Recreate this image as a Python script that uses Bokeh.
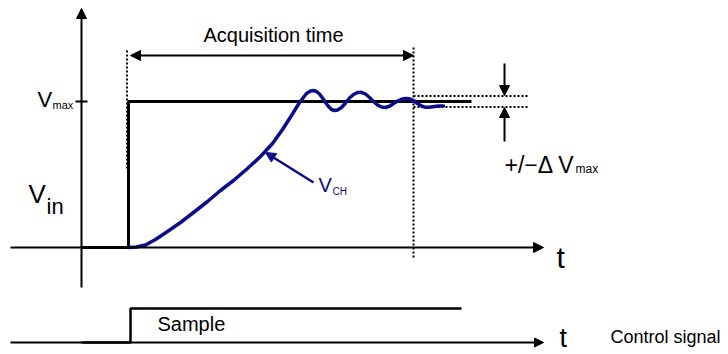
from bokeh.plotting import figure
from bokeh.models import Range1d, Arrow, NormalHead
from bokeh.core.properties import value
from bokeh.embed import file_html
from bokeh.resources import INLINE

# ---- data (time units: 0 = sample step; voltage units: 0 = baseline) ----
T_AXIS = -47          # vertical V axis position
T_ACQ = 285           # end of acquisition time
V_MAX = 146           # V max level
V_TOL = 5.5           # +/- delta V max band half-width

# input step Vin
step_t = [T_AXIS, 0, 0, 343]
step_v = [0, 0, V_MAX, V_MAX]

# hold capacitor voltage V_CH
t_ch = [0, 8, 17, 27, 39, 52, 65, 79, 92, 105, 119, 132, 144, 154, 163, 171,
        178, 182, 185, 188, 191, 194, 197, 200, 203, 206, 209, 213, 217, 221,
        225, 229, 233, 237, 241, 245, 249, 253, 257, 261, 265, 269, 273, 277,
        281, 285, 289, 293, 297, 301, 306, 310, 315]
v_ch = [0, 0.5, 2.5, 8, 16, 25, 35, 46, 57, 67, 79, 91, 104, 118, 132, 145,
        154, 156.5, 157, 156, 153.5, 149.5, 145, 141, 138, 137, 137.5, 140, 144.5, 149.5,
        153, 155, 155.2, 153.5, 150, 146, 142.5, 140.5, 140, 141.2, 144, 146.5, 148.2, 149,
        148.7, 147, 144, 141.5, 140.2, 140.3, 141, 141.4, 141.5]

# control signal (0 = hold, 1 = sample)
ctrl_t = [T_AXIS, 2, 2, 333]
ctrl_level = [0, 0, 1, 1]
CTRL_BASE = -95
CTRL_AMP = 34

BLUE = "#0B0B8C"
FONT = value("Liberation Sans")
TXT_DY = 9   # baseline correction for svg text placement

p = figure(width=728, height=354, x_range=Range1d(-128, 600), y_range=Range1d(-107, 247),
           min_border=0, toolbar_location=None, output_backend="svg",
           x_axis_type=None, y_axis_type=None)
p.grid.visible = False
p.outline_line_color = None
p.background_fill_color = "white"


def arrow(x0, y0, x1, y1, color="black", width=2, both=False, size=10):
    head = NormalHead(size=size, fill_color=color, line_color=color, line_width=1)
    start = NormalHead(size=size, fill_color=color, line_color=color, line_width=1) if both else None
    p.add_layout(Arrow(end=head, start=start, x_start=x0, y_start=y0, x_end=x1, y_end=y1,
                       line_color=color, line_width=width))


# axes
arrow(T_AXIS, -40, T_AXIS, 239)
arrow(-118, 0, 415, 0)
p.line([T_AXIS - 6, T_AXIS + 6], [V_MAX, V_MAX], line_color="black", line_width=2)

# control signal axis
arrow(-118, CTRL_BASE, 415, CTRL_BASE, size=9)

# dotted guides
p.line([-1.5, -1.5], [197, 77], line_color="black", line_width=2, line_dash="2 2")
p.line([T_ACQ, T_ACQ], [200, -11], line_color="black", line_width=2, line_dash="2 2")
for lv in [V_MAX + V_TOL, V_MAX - V_TOL]:
    p.line([T_ACQ, 401], [lv, lv], line_color="black", line_width=2, line_dash="2 2")

# step
p.line(step_t, step_v, line_color="black", line_width=3)

# V_CH curve
p.line(t_ch, v_ch, line_color=BLUE, line_width=3.5, line_join="round", line_cap="round")

# acquisition time arrow
arrow(2, 192, T_ACQ, 192, both=True)

# tolerance arrows
arrow(376, 184, 376, V_MAX + V_TOL + 0.5)
arrow(376, 106, 376, V_MAX - V_TOL - 0.5)

# V_CH pointer
arrow(185, 65, 137, 95, color=BLUE, width=2.5)

# control signal
p.line(ctrl_t, [CTRL_BASE + CTRL_AMP * c for c in ctrl_level], line_color="black", line_width=2.5)

# texts
def txt(x, y, s, size, color="black"):
    p.text(x=[x], y=[y + TXT_DY], text=[s], text_font=FONT, text_font_size=size,
           text_baseline="alphabetic", text_align="left", text_color=color)

txt(75, 204, "Acquisition time", "20px")
txt(-91, 139, "V", "22px")
txt(-76, 134, "max", "11px")
txt(-100, 45, "V", "26px")
txt(-82, 32, "in", "22px")
txt(428, -19, "t", "30px")
txt(376, 74, "+/\u2212\u0394 V", "23px")
txt(447, 70, "max", "12px")
txt(190, 54, "V", "20px", BLUE)
txt(204, 47, "CH", "10px", BLUE)
txt(29, -85, "Sample", "20px")
txt(431, -99, "t", "27px")
txt(482, -98, "Control signal", "18px")

open("out.html", "w").write(file_html(p, INLINE))
